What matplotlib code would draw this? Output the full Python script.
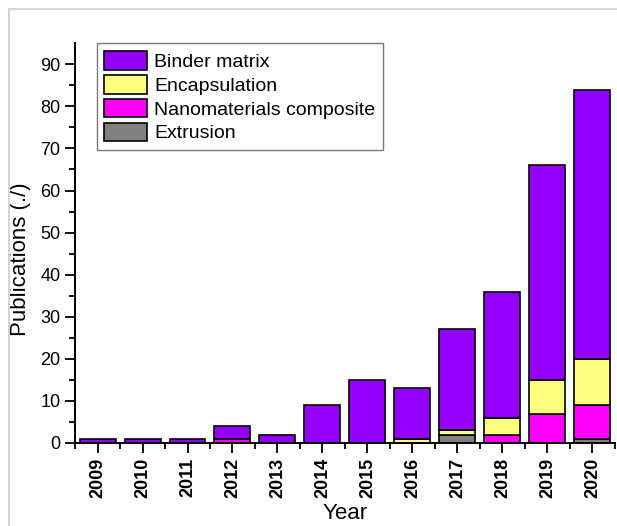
import numpy as np
import matplotlib.pyplot as plt
from matplotlib.lines import Line2D

plt.rcParams['font.family'] = ['Liberation Sans', 'DejaVu Sans']

# Publications per year, split by processing route
years = [2009, 2010, 2011, 2012, 2013, 2014, 2015, 2016, 2017, 2018, 2019, 2020]
extrusion = [0, 0, 0, 0, 0, 0, 0, 0, 2, 0, 0, 1]
nanocomposite = [0, 0, 0, 1, 0, 0, 0, 0, 0, 2, 7, 8]
encapsulation = [0, 0, 0, 0, 0, 0, 0, 1, 1, 4, 8, 11]
binder = [1, 1, 1, 3, 2, 9, 15, 12, 24, 30, 51, 64]

fig = plt.figure(figsize=(6.17, 5.26), dpi=100)
ax = fig.add_axes([0.1216, 0.1578, 0.875, 0.760])

# thin grey page frame
fig.add_artist(Line2D([9 / 617, 1], [1 - 9 / 526] * 2, color='#d4d4d4', lw=1.5))
fig.add_artist(Line2D([9 / 617] * 2, [0, 1 - 9 / 526], color='#d4d4d4', lw=1.5))

x = np.array(years)
w = 0.8
kw = dict(width=w, edgecolor='black', linewidth=1.2)
b0 = np.zeros(len(years))
ax.bar(x, extrusion, bottom=b0, color='#808080', label='Extrusion', **kw)
b1 = b0 + extrusion
ax.bar(x, nanocomposite, bottom=b1, color='#ff00ff', label='Nanomaterials composite', **kw)
b2 = b1 + nanocomposite
ax.bar(x, encapsulation, bottom=b2, color='#ffff80', label='Encapsulation', **kw)
b3 = b2 + encapsulation
ax.bar(x, binder, bottom=b3, color='#9400ff', label='Binder matrix', **kw)

ax.set_xlim(2008.5, 2020.5)
ax.set_ylim(0, 95)
ax.set_yticks(np.arange(0, 91, 10))
ax.set_yticks(np.arange(5, 95, 10), minor=True)
ax.set_xticks(years)
ax.set_xticks(np.arange(2008.5, 2021, 1), minor=True)
ax.set_xticklabels([str(y) for y in years], rotation=90, fontweight='bold', fontsize=13)
ax.tick_params(axis='y', labelsize=13)
ax.tick_params(which='major', direction='out', length=7, width=1.3)
ax.tick_params(which='minor', direction='out', length=4, width=1.3)

for s in ['top', 'right']:
    ax.spines[s].set_visible(False)
for s in ['left', 'bottom']:
    ax.spines[s].set_linewidth(1.4)

ax.set_ylabel('Publications (./)', fontsize=16)
ax.set_xlabel('Year', fontsize=16)
ax.yaxis.set_label_coords(-0.082, 0.46)
ax.xaxis.set_label_coords(0.5, -0.15)

handles, labels = ax.get_legend_handles_labels()
leg = ax.legend(handles[::-1], labels[::-1], loc='upper left',
                bbox_to_anchor=(0.04, 1.0), fontsize=14, frameon=True,
                fancybox=False, edgecolor='#555555', handlelength=2.2,
                handleheight=1.1, labelspacing=0.2, handletextpad=0.35,
                borderpad=0.4, borderaxespad=0.0)
leg.get_frame().set_linewidth(1.0)

fig.savefig('out.png', dpi=100)
